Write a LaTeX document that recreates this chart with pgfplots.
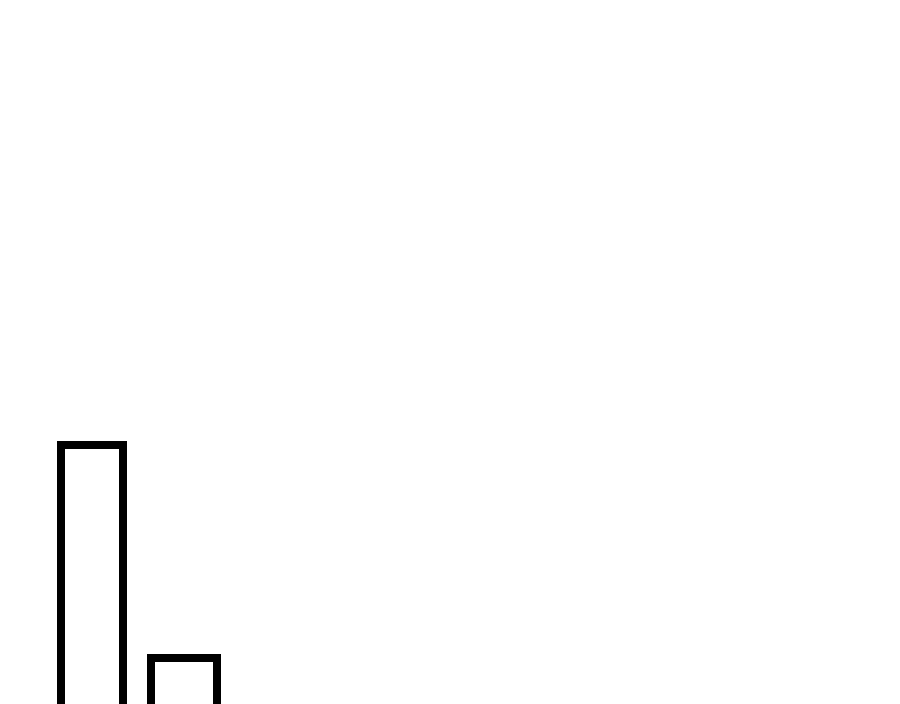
\documentclass[border=0pt]{standalone}
\usepackage{pgfplots}
\pgfplotsset{compat=1.18}
\begin{document}
\begin{tikzpicture}
\begin{axis}[
  scale only axis, width=9cm, height=7.03cm,
  xmin=0, xmax=900, ymin=0, ymax=703,
  hide axis, clip=true,
]
\addplot[draw=black, line width=0.8mm, line join=miter, mark=none] coordinates {(61,-30) (61,258.5) (123,258.5) (123,-30)};
\addplot[draw=black, line width=0.8mm, line join=miter, mark=none] coordinates {(150.5,-30) (150.5,44.7) (217,44.7) (217,-30)};
\end{axis}
\pgfresetboundingbox
\path (current axis.south west) rectangle (current axis.north east);
\end{tikzpicture}
\end{document}
